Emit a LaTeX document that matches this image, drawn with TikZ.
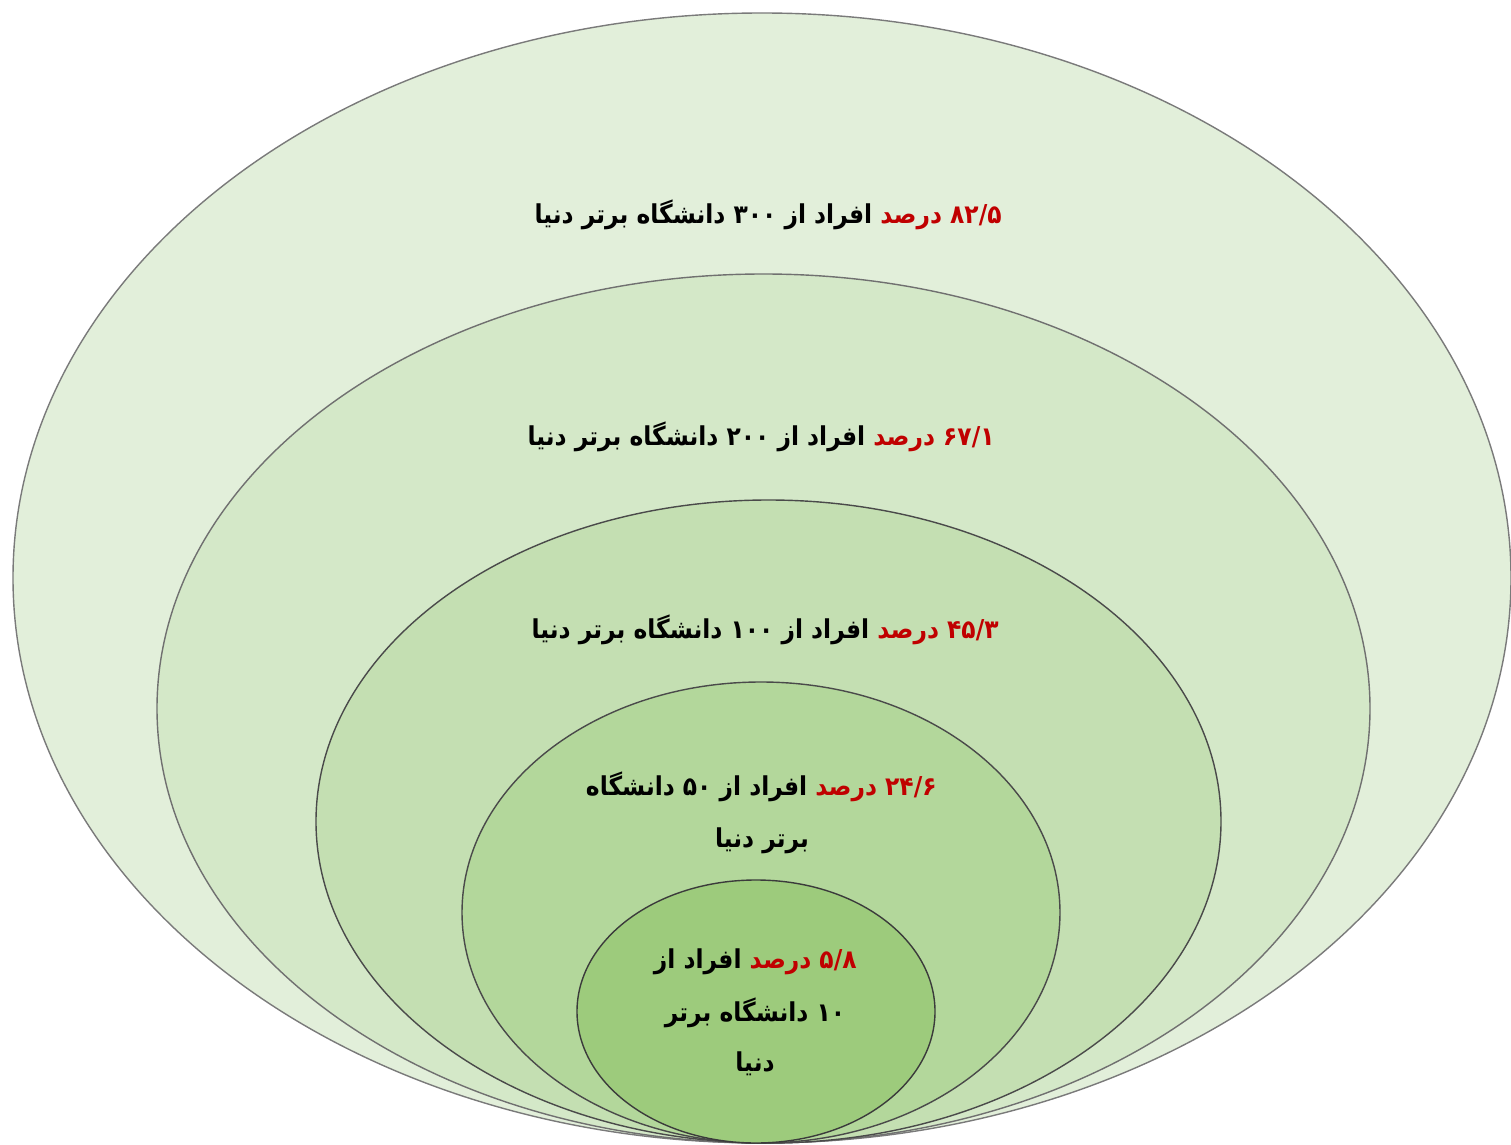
\documentclass[tikz,border=0pt]{standalone}
\usepackage{fontspec}
\TeXXeTstate=1
\newfontfamily\arabicfont[Script=Arabic, FakeStretch=0.9]{DejaVu Sans}
\definecolor{pred}{HTML}{C00000}
\definecolor{fillA}{HTML}{E2EFDA}
\definecolor{fillB}{HTML}{D4E8C8}
\definecolor{fillC}{HTML}{C4DFB2}
\definecolor{fillD}{HTML}{B3D79B}
\definecolor{fillE}{HTML}{9DCB7C}
\definecolor{edgeOut}{HTML}{7A7A7A}
\definecolor{edgeIn}{HTML}{4A4A4A}
\begin{document}
\begin{tikzpicture}[x=0.5pt,y=-0.5pt,
  ring/.style={line width=0.7pt},
  lbl/.style={font=\arabicfont\bfseries\fontsize{13}{15}\selectfont, text=black, inner sep=0pt, anchor=center},
  redlbl/.style={lbl, text=pred, anchor=east},
  restlbl/.style={lbl, anchor=base east, xshift=-3.7pt}]
\useasboundingbox (0,0) rectangle (1511,1145);
\fill[white] (0,0) rectangle (1511,1145);
\draw[ring, fill=fillA, draw=edgeOut] (762,578) ellipse [x radius=749, y radius=565];
\draw[ring, fill=fillB, draw=edgeOut!80!edgeIn] (763.5,708.5) ellipse [x radius=606.5, y radius=434.5];
\draw[ring, fill=fillC, draw=edgeIn] (768.5,821.5) ellipse [x radius=452.5, y radius=321.5];
\draw[ring, fill=fillD, draw=edgeIn] (761,912.5) ellipse [x radius=299, y radius=230.5];
\draw[ring, fill=fillE, draw=edgeIn!80!black] (756,1011.5) ellipse [x radius=179, y radius=131.5];
% ring 1
\node[redlbl] (t1r) at (1002,217) {\beginR\beginL ۸۲/۵\endL{} درصد\endR};
\node[restlbl] (t1b) at (t1r.base west) {\beginR افراد از \beginL ۳۰۰\endL{} دانشگاه برتر دنیا\endR};
% ring 2
\node[redlbl] (t2r) at (995,439) {\beginR\beginL ۶۷/۱\endL{} درصد\endR};
\node[restlbl] (t2b) at (t2r.base west) {\beginR افراد از \beginL ۲۰۰\endL{} دانشگاه برتر دنیا\endR};
% ring 3
\node[redlbl] (t3r) at (999,632) {\beginR\beginL ۴۵/۳\endL{} درصد\endR};
\node[restlbl] (t3b) at (t3r.base west) {\beginR افراد از \beginL ۱۰۰\endL{} دانشگاه برتر دنیا\endR};
% ring 4
\node[redlbl] (t4r) at (937,789) {\beginR\beginL ۲۴/۶\endL{} درصد\endR};
\node[restlbl] (t4b) at (t4r.base west) {\beginR افراد از \beginL ۵۰\endL{} دانشگاه\endR};
\node[lbl] (t4c) at (762,841) {\beginR برتر دنیا\endR};
% ring 5
\node[redlbl] (t5r) at (857,962) {\beginR\beginL ۵/۸\endL{} درصد\endR};
\node[restlbl] (t5b) at (t5r.base west) {\beginR افراد از\endR};
\node[lbl] (t5c) at (755,1013) {\beginR\beginL ۱۰\endL{} دانشگاه برتر\endR};
\node[lbl] (t5d) at (755,1064) {\beginR دنیا\endR};
\end{tikzpicture}
\end{document}
